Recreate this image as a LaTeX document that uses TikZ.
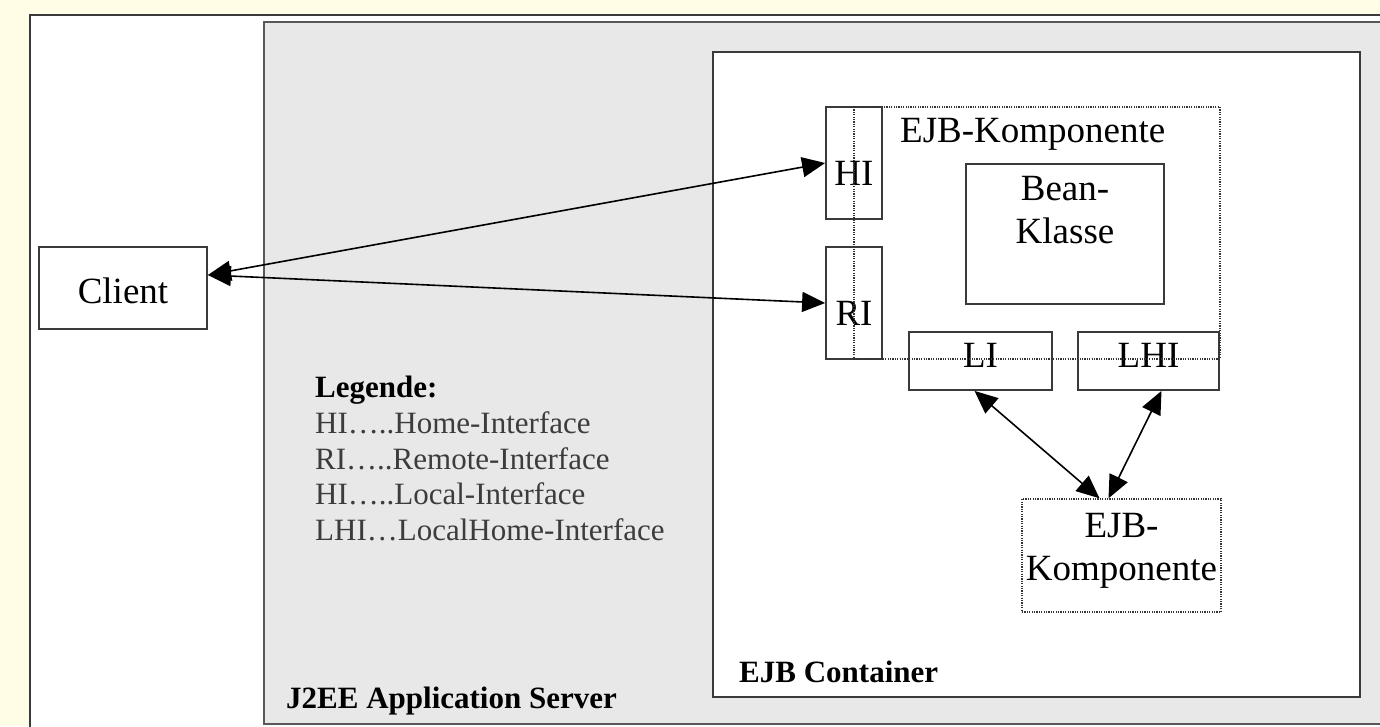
\documentclass[tikz,border=0pt]{standalone}
\usepackage{fontspec}
\setmainfont{Liberation Serif}
\usetikzlibrary{arrows.meta}
\definecolor{paper}{HTML}{FFFDE6}
\definecolor{panel}{HTML}{E8E8E8}
\definecolor{frame}{HTML}{3A3A3A}
\definecolor{legendtext}{HTML}{3C3C3C}
\begin{document}
\begin{tikzpicture}[x=1pt,y=-1pt,
  box/.style={draw=frame, line width=1.8pt, fill=white, inner sep=0pt,
    font=\fontsize{37}{43}\selectfont},
  dotbox/.style={draw=black!80, line width=1.4pt, dash pattern=on 1.2pt off 1.2pt,
    inner sep=0pt},
  label text/.style={font=\fontsize{37}{43}\selectfont, inner sep=0pt},
  link/.style={line width=1.6pt,
    {Triangle[length=23pt,width=20pt]}-{Triangle[length=23pt,width=20pt]}},
  caption/.style={font=\fontsize{31}{36}\selectfont\bfseries,
    anchor=base west, inner sep=0pt}]

% page and clipping
\fill[paper] (0,0) rectangle (1380,726);
\useasboundingbox (0,0) rectangle (1380,726);
\clip (0,0) rectangle (1380,726);

% outer white area
\draw[fill=white, draw=frame, line width=2.2pt] (30,15) rectangle (1420,760);

% J2EE application server panel
\draw[fill=panel, draw=frame!85, line width=1.8pt] (264,22) rectangle (1420,724);
\node[caption] (server) at (286,708) {J2EE Application Server};

% EJB container
\draw[fill=white, draw=frame, line width=2.2pt] (713,52) rectangle (1360,697);
\node[caption] (container) at (739,682) {EJB Container};

% client
\node[box, minimum width=168pt, minimum height=82pt,
  text height=30pt, text depth=0pt] (client) at (123,288) {Client};

% remote side interfaces
\node[box, minimum width=56pt, minimum height=112pt,
  text height=44pt, text depth=0pt] (hi) at (854,163) {HI};
\node[box, minimum width=56pt, minimum height=112pt,
  text height=44pt, text depth=0pt] (ri) at (854,303) {RI};

% bean class
\node[box, minimum width=198pt, minimum height=140pt] (bean) at (1065,234) {};
\node[label text, align=center, anchor=north] (beantext) at (1065,176) {Bean-\\Klasse};

% local interfaces
\node[box, minimum width=143pt, minimum height=58pt,
  text height=24pt, text depth=12pt] (li) at (980.5,361) {LI};
\node[box, minimum width=141pt, minimum height=58pt,
  text height=24pt, text depth=12pt] (lhi) at (1148.5,361) {LHI};

% EJB component outline
\node[label text, anchor=base west] (ejbtitle) at (900,142) {EJB-Komponente};
\node[dotbox, minimum width=366pt, minimum height=252pt] (ejb) at (1037,233) {};

% second EJB component
\node[dotbox, minimum width=199pt, minimum height=113pt] (ejb2) at (1121.5,555.5) {};
\node[label text, align=center, anchor=north] (ejb2text) at (1121.5,513) {EJB-\\Komponente};

% connections
\draw[link] ([yshift=13pt]client.east) -- (hi.west);
\draw[link] ([yshift=13pt]client.east) -- (ri.west);
\draw[link] ([xshift=-6pt]li.south) -- ([xshift=-22pt]ejb2.north);
\draw[link] ([xshift=13pt]lhi.south) -- ([xshift=-13pt]ejb2.north);

% legend
\node[anchor=north west, inner sep=0pt, align=left,
  font=\fontsize{31}{35.7}\selectfont, text=legendtext] (legend) at (315,376)
  {\textcolor{black}{\textbf{Legende:}}\\
   HI…..Home-Interface\\
   RI…..Remote-Interface\\
   HI…..Local-Interface\\
   LHI…LocalHome-Interface};
\end{tikzpicture}
\end{document}
